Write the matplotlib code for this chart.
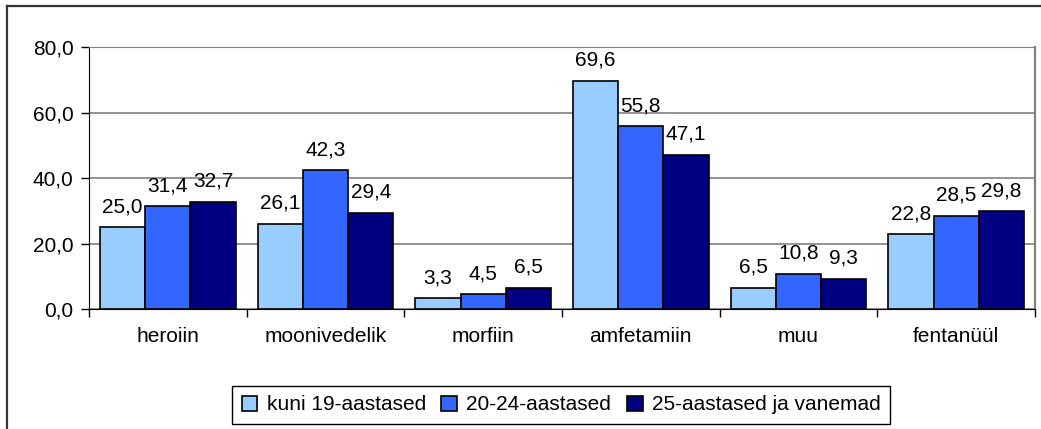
import numpy as np
import matplotlib.pyplot as plt
from matplotlib.lines import Line2D

plt.rcParams['font.family'] = ['Liberation Sans', 'DejaVu Sans']

categories = ['heroiin', 'moonivedelik', 'morfiin', 'amfetamiin', 'muu', 'fentanüül']
series_names = ['kuni 19-aastased', '20-24-aastased', '25-aastased ja vanemad']
kuni19 = [25.0, 26.1, 3.3, 69.6, 6.5, 22.8]
vanus20_24 = [31.4, 42.3, 4.5, 55.8, 10.8, 28.5]
vanus25 = [32.7, 29.4, 6.5, 47.1, 9.3, 29.8]
yticks = [0, 20, 40, 60, 80]

colors = ['#99CCFF', '#3366FF', '#000080']

fig = plt.figure(figsize=(10.41, 4.29), dpi=100)
ax = fig.add_axes([0.0855, 0.2797, 0.9087, 0.6107])

x = np.arange(len(categories))
w = 0.287
for i, (vals, name) in enumerate(zip([kuni19, vanus20_24, vanus25], series_names)):
    pos = x + (i - 1) * w
    ax.bar(pos, vals, width=w, color=colors[i], edgecolor='black', linewidth=1.2,
           label=name, zorder=3)
    for px, v in zip(pos, vals):
        ax.annotate(f'{v:.1f}'.replace('.', ','), (px, v), xytext=(0, 8),
                    textcoords='offset points', ha='center', va='bottom', fontsize=15)

ax.set_xlim(-0.5, len(categories) - 0.5)
ax.set_ylim(0, 80)
ax.set_yticks(yticks)
ax.set_yticklabels([f'{t:.1f}'.replace('.', ',') for t in yticks], fontsize=15)
ax.yaxis.grid(True, color='#808080', linewidth=1.2, zorder=0)

ax.set_xticks(x)
ax.set_xticklabels(categories, fontsize=15)
ax.tick_params(axis='x', which='major', length=0, pad=13)
ax.set_xticks(np.arange(len(categories) + 1) - 0.5, minor=True)
ax.tick_params(axis='x', which='minor', length=6, direction='out', width=1)
ax.tick_params(axis='y', length=6, width=1, pad=5)

ax.spines['left'].set_color('black')
ax.spines['bottom'].set_color('black')
ax.spines['top'].set_color('#808080')
ax.spines['right'].set_color('#808080')
ax.spines['right'].set_linewidth(1.6)

leg = fig.legend(loc='center', bbox_to_anchor=(0.539, 0.056), ncol=3, fontsize=15,
                 frameon=True, fancybox=False, edgecolor='black', framealpha=1,
                 handlelength=0.75, handleheight=0.75, handletextpad=0.45,
                 columnspacing=0.75, borderpad=0.45, borderaxespad=0)
leg.get_frame().set_linewidth(1.0)

# outer chart frame (only top and left edges visible in the crop)
fig.add_artist(Line2D([7 / 1041, 7 / 1041], [0, 1 - 6 / 429], color='#333333', linewidth=1.6))
fig.add_artist(Line2D([7 / 1041, 1], [1 - 6 / 429, 1 - 6 / 429], color='#333333', linewidth=1.6))

fig.savefig('out.png', dpi=100)
